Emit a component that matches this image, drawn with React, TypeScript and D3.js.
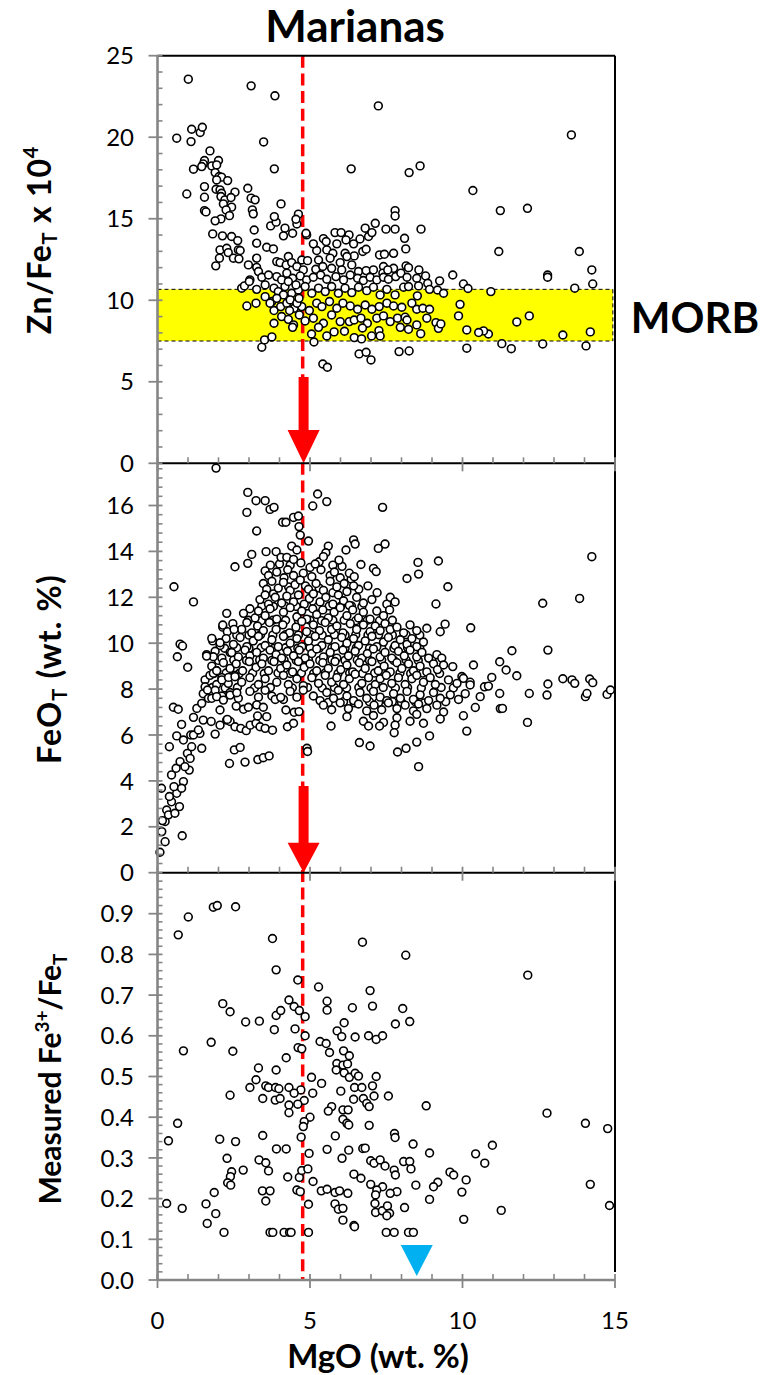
import React from "react";
import * as d3 from "d3";

// ---------- axis ticks ----------
const mgoTicks = [0, 5, 10, 15];
const znTicks = [0, 5, 10, 15, 20, 25];
const feoTicks = [0, 2, 4, 6, 8, 10, 12, 14, 16];
const fe3Ticks = [0, 0.1, 0.2, 0.3, 0.4, 0.5, 0.6, 0.7, 0.8, 0.9];

// ---------- annotations ----------
const morbBand = [7.5, 10.67];
const mgoLine = 4.76;
const arrowMgO = 4.79;
const arrowZn = [5.3, 2.05, 0]; // shaft top, head base, tip
const arrowFeO = [3.78, 1.31, 0];
const blueMarker = [8.5, 0.086, 0.01]; // MgO, top, tip

// ---------- Zn/FeT x 10^4 ----------
const znSparse: [number, number][] = [
  [1.01, 23.56], [3.07, 23.15], [3.85, 22.54], [7.24, 21.92], [13.57, 20.14], [0.63, 19.94], [1.1, 19.73],
  [1.12, 20.49], [1.4, 20.29], [1.47, 20.61], [3.48, 19.71], [1.72, 19.16], [3.83, 18.06], [6.35, 18.06],
  [8.25, 17.83], [8.61, 18.24], [10.34, 16.73], [0.96, 16.52], [11.24, 15.5], [12.13, 15.64], [11.19, 12.99],
  [13.83, 12.99], [14.24, 11.86], [12.79, 11.55], [12.79, 11.41], [13.68, 10.74], [14.27, 11.0], [14.19, 8.06],
  [14.05, 7.2], [13.29, 7.87], [12.63, 7.32], [12.19, 9.04], [11.78, 8.67], [11.6, 7.03], [11.29, 7.34],
  [10.85, 7.93], [10.69, 8.12], [10.53, 8.02], [10.93, 10.53], [10.14, 8.18], [10.14, 7.06], [9.87, 9.04],
  [9.92, 9.75], [10.03, 11.0], [10.18, 10.72], [9.68, 11.55], [9.25, 11.19], [9.38, 10.43], [9.13, 8.63],
  [9.21, 8.28], [9.29, 8.55], [7.92, 6.85], [8.25, 6.89], [6.61, 6.71], [6.84, 6.81], [7.0, 6.34], [5.42, 6.09],
  [5.57, 5.89], [3.42, 7.12], [3.51, 7.57], [3.75, 7.75], [8.64, 14.36], [7.79, 15.5], [7.79, 15.17],
  [7.79, 14.36], [7.49, 14.36], [7.14, 14.72], [8.1, 13.8], [8.14, 13.15], [4.05, 15.91], [4.89, 14.01],
  [4.87, 14.11], [4.62, 15.28], [4.54, 14.97],
];
const znLeft: [number, number][] = [
  [1.54, 18.57], [1.5, 18.36], [1.45, 18.2], [1.18, 18.04], [1.78, 18.24], [2.0, 18.57], [1.94, 18.3],
  [1.89, 17.83], [2.02, 17.59], [2.1, 17.55], [1.94, 17.38], [2.3, 17.34], [1.54, 16.97], [1.92, 16.81],
  [2.05, 16.77], [2.1, 16.56], [2.54, 16.63], [1.54, 16.32], [2.08, 16.36], [2.21, 16.16], [2.41, 16.3],
  [2.16, 15.91], [2.43, 15.71], [1.54, 15.5], [1.59, 15.42], [2.25, 15.54], [2.36, 15.19], [2.08, 14.99],
  [1.89, 14.87], [1.81, 14.07], [2.13, 13.95], [2.43, 13.91], [2.63, 13.66], [2.05, 13.09], [2.27, 13.19],
  [2.32, 12.92], [2.65, 13.09], [2.71, 13.05], [2.49, 12.58], [2.03, 12.58], [2.67, 12.54], [1.91, 12.11],
  [2.96, 16.87], [3.07, 16.26], [3.2, 16.16], [3.11, 15.54], [3.14, 15.3], [3.17, 14.31], [3.25, 13.5],
  [3.58, 13.25], [3.8, 13.15], [3.71, 14.56], [3.89, 14.79], [3.83, 15.13], [4.18, 14.42], [4.13, 13.95],
  [4.43, 14.11], [4.57, 14.68],
];
const znDense: [number, number][] = [
  [5.22, 13.05], [5.55, 13.09], [5.75, 12.88], [5.88, 13.46], [6.15, 12.88], [6.45, 12.72], [6.73, 12.99],
  [7.28, 12.78], [7.44, 12.82], [7.74, 12.88], [3.25, 12.58], [4.29, 12.68], [4.73, 12.47], [4.92, 12.43],
  [5.28, 12.47], [5.66, 12.58], [5.99, 12.31], [6.21, 12.68], [5.11, 13.46], [5.44, 13.78], [5.53, 13.6],
  [5.82, 14.15], [6.02, 14.15], [6.28, 14.01], [6.18, 13.7], [6.43, 13.46], [6.64, 13.76], [6.81, 14.42],
  [6.92, 13.91], [7.03, 14.15], [6.84, 13.13],
  [2.98, 12.17], [3.25, 12.02], [3.31, 11.76], [3.91, 12.37], [4.02, 12.31], [4.22, 12.17], [4.4, 12.31],
  [4.57, 12.07], [4.78, 11.86], [5.19, 11.9], [5.42, 12.07], [5.71, 11.96], [6.04, 11.86], [6.37, 12.17],
  [6.59, 11.76], [6.84, 11.82], [7.08, 11.86], [7.41, 12.07], [7.74, 11.96], [8.15, 12.11], [8.23, 12.0],
  [8.57, 11.86], [7.39, 11.66], [7.55, 11.86],
  [3.03, 11.25], [3.42, 11.41], [3.64, 11.55], [3.91, 11.45], [4.24, 11.66], [4.43, 11.35], [4.68, 11.49],
  [4.89, 11.25], [5.11, 11.41], [5.35, 11.55], [5.55, 11.29], [5.85, 11.45], [6.1, 11.25], [6.32, 11.55],
  [6.56, 11.35], [6.75, 11.21], [6.97, 11.41], [7.19, 11.25], [7.41, 11.41], [7.57, 11.29], [7.81, 11.45],
  [7.98, 11.66], [8.18, 11.41], [8.5, 11.35], [8.79, 11.49], [8.86, 11.04], [8.56, 10.88],
  [2.76, 10.74], [2.85, 10.88], [3.01, 11.15], [3.25, 10.67], [3.53, 10.94], [3.82, 10.74], [3.96, 10.53],
  [4.18, 10.84], [4.4, 10.43], [4.62, 10.63], [4.84, 10.84], [5.06, 10.43], [5.28, 10.74], [5.5, 10.53],
  [5.71, 10.84], [5.93, 10.43], [6.15, 10.74], [6.37, 10.47], [6.59, 10.8], [6.86, 10.59], [7.08, 10.8],
  [7.3, 10.33], [7.52, 10.67], [7.79, 10.33], [8.07, 10.8], [8.23, 10.84], [8.52, 10.27], [8.92, 10.67],
  [9.18, 10.63],
  [2.93, 9.65], [3.23, 9.82], [3.53, 10.22], [3.75, 9.92], [3.82, 9.37], [4.04, 9.61], [4.24, 9.82],
  [4.48, 9.51], [4.73, 9.61], [4.98, 9.37], [5.22, 9.82], [5.39, 9.61], [5.64, 9.92], [5.88, 9.51],
  [6.08, 9.82], [6.32, 9.65], [6.56, 9.45], [6.81, 9.71], [7.03, 9.45], [7.27, 9.61], [7.52, 9.82],
  [7.74, 9.65], [8.01, 9.57], [8.34, 9.82], [8.5, 9.45], [8.7, 9.51], [8.92, 9.45],
  [3.82, 8.59], [4.07, 9.0], [4.29, 8.83], [4.46, 8.49], [4.65, 9.1], [4.84, 8.73], [5.11, 8.9], [5.44, 8.59],
  [5.71, 9.1], [5.99, 8.69], [6.29, 8.69], [6.45, 8.79], [6.67, 8.9], [6.88, 8.59], [7.19, 8.9], [7.41, 9.04],
  [7.63, 8.69], [7.87, 8.9], [8.12, 8.96], [8.18, 8.79], [8.5, 8.49], [8.83, 8.9],
  [4.43, 8.34], [5.05, 7.93], [5.13, 7.44], [5.28, 8.34], [5.55, 7.81], [5.79, 8.06], [6.13, 8.1],
  [6.45, 7.71], [6.69, 7.63], [6.72, 8.3], [7.02, 7.81], [7.26, 8.14], [7.3, 7.81], [7.96, 8.34],
  [8.23, 8.22], [8.63, 7.95],
  [4.07, 11.25], [4.29, 11.15], [4.54, 10.94], [4.13, 10.33], [4.35, 10.02], [4.57, 9.82], [4.33, 9.37],
  [4.64, 10.12], [3.91, 10.12], [3.69, 9.82],
];

// ---------- FeOT (wt. %) ----------
const feoSparse: [number, number][] = [
  [1.92, 17.63], [2.96, 16.57], [2.93, 15.7], [3.23, 16.21], [3.53, 16.21], [3.69, 15.83], [3.82, 15.92],
  [3.25, 14.89], [5.25, 16.5], [5.55, 16.17], [5.09, 15.98], [7.38, 15.92], [4.1, 15.27], [4.21, 15.27],
  [4.46, 15.48], [4.62, 15.54], [4.64, 15.08], [4.68, 14.71], [4.95, 14.45], [4.4, 14.23], [4.57, 14.06],
  [3.09, 13.87], [2.96, 13.48], [2.54, 13.33], [3.56, 13.99], [3.89, 13.99], [4.05, 13.74], [4.24, 13.74],
  [4.46, 13.65], [0.54, 12.46], [1.18, 11.8], [0.74, 9.96], [0.82, 9.88], [0.65, 9.41], [0.99, 8.95],
  [0.52, 7.21], [0.68, 7.12], [0.79, 6.46], [0.13, 3.68], [0.08, 0.89], [0.25, 1.35], [0.16, 2.27],
  [0.81, 1.61], [5.6, 14.23], [5.52, 13.94], [5.44, 13.77], [6.18, 14.06], [6.43, 14.5], [6.48, 14.32],
  [7.24, 14.13], [7.46, 14.32], [5.17, 13.45], [5.95, 13.62], [6.67, 13.43], [7.08, 13.26], [7.17, 13.12],
  [8.54, 13.52], [8.56, 13.01], [9.21, 13.58], [8.18, 12.82], [9.52, 12.46], [14.24, 13.77], [13.84, 11.95],
  [12.63, 11.74], [9.13, 11.71], [10.27, 10.67], [9.43, 10.83], [9.27, 10.5], [11.62, 9.67], [12.8, 9.7],
  [11.22, 9.19], [11.43, 8.83], [11.78, 8.58], [13.29, 8.45], [13.59, 8.4], [13.68, 8.25], [14.17, 8.44],
  [14.27, 8.28], [12.8, 8.22], [12.77, 7.74], [12.19, 7.81], [14.03, 7.67], [14.08, 7.81], [14.74, 7.77],
  [14.85, 7.96], [11.22, 7.81], [11.24, 7.15], [11.31, 7.16], [12.13, 6.55], [10.14, 6.17], [10.03, 6.84],
  [10.96, 8.51], [10.72, 8.1], [10.58, 7.67], [10.42, 7.2], [10.36, 9.05], [10.03, 8.47], [9.68, 8.98],
  [10.25, 8.18], [10.85, 8.13],
];
const feoLeft: [number, number][] = [
  [0.3, 2.73], [0.46, 3.09], [0.63, 3.46], [0.54, 3.75], [0.46, 4.26], [0.61, 4.55], [0.74, 4.84],
  [0.85, 3.97], [0.39, 5.49], [0.63, 5.96], [0.85, 5.78], [0.98, 5.2], [1.04, 4.47], [1.09, 6.0],
  [1.12, 5.49], [1.45, 5.42], [1.18, 6.77], [1.29, 7.16], [1.5, 6.65], [1.39, 6.07], [1.56, 8.1],
  [1.64, 7.96], [1.76, 6.59], [1.89, 6.04], [2.05, 6.43], [2.27, 6.65], [2.38, 6.59], [0.14, 1.79],
  [0.25, 2.23], [0.36, 2.52], [0.39, 3.32], [0.57, 2.59], [0.72, 2.88], [0.79, 3.68], [0.9, 4.62],
  [1.07, 4.98], [1.18, 6.0], [1.34, 6.22], [1.45, 7.38], [1.78, 7.6], [1.83, 8.69], [1.83, 9.41],
  [1.61, 9.44], [1.78, 10.21], [2.05, 10.02], [2.14, 10.79], [2.27, 11.3], [2.51, 10.6], [2.43, 9.59],
  [1.94, 8.8], [2.11, 8.4], [2.33, 8.51], [2.54, 8.54], [1.94, 7.67], [2.16, 7.52], [2.38, 7.74],
  [2.6, 7.84], [2.05, 7.09], [2.29, 6.68],
  [2.36, 4.76], [2.52, 5.35], [2.71, 5.46], [2.87, 4.82], [3.29, 4.93], [3.47, 5.01], [3.66, 5.09],
  [2.54, 6.36], [2.73, 6.29], [2.91, 6.19], [3.04, 6.43], [3.23, 6.51], [3.36, 6.36], [3.53, 6.29],
  [3.77, 6.21], [4.26, 6.36], [4.46, 6.51], [2.58, 7.26], [2.82, 7.12], [2.98, 7.21], [3.25, 7.31],
  [3.47, 7.21], [3.28, 6.83], [3.58, 6.8], [3.86, 7.55], [4.04, 7.64], [4.21, 7.09], [4.48, 6.99],
  [4.64, 7.02], [4.9, 5.42], [4.92, 5.28], [5.69, 6.39], [6.62, 5.67], [6.97, 5.52], [7.87, 5.26],
  [8.15, 5.42], [8.56, 4.62], [8.5, 5.69], [6.92, 6.39], [7.28, 6.39], [7.79, 6.43], [7.76, 6.1],
  [8.92, 5.96], [8.72, 6.51],
];
const feoDense: [number, number][] = [
  [3.53, 13.15], [3.64, 12.95], [3.91, 13.1], [4.15, 12.85], [4.27, 13.2], [4.46, 12.95], [4.78, 13.05],
  [5.06, 12.9], [5.36, 13.2], [5.66, 12.95], [5.8, 13.1], [5.99, 12.85], [6.29, 13.05], [6.45, 12.9],
  [3.47, 12.6], [3.58, 12.35], [3.75, 12.7], [3.96, 12.4], [4.13, 12.65], [4.35, 12.3], [4.51, 12.55],
  [4.68, 12.75], [4.95, 12.35], [5.2, 12.6], [5.44, 12.3], [5.66, 12.7], [5.88, 12.45], [6.12, 12.6],
  [6.21, 12.25], [6.43, 12.5],
  [3.36, 11.9], [3.53, 12.1], [3.64, 11.7], [3.86, 12.0], [4.07, 11.75], [4.24, 12.05], [4.46, 11.8],
  [4.62, 12.1], [4.81, 11.7], [4.98, 11.95], [5.11, 12.15], [5.33, 11.8], [5.52, 12.0], [5.75, 11.7],
  [5.93, 12.1], [6.1, 11.85], [6.29, 11.65], [6.53, 12.0], [6.75, 11.75], [7.03, 11.9], [7.52, 11.7],
  [7.63, 12.0], [7.79, 11.8],
  [2.82, 11.3], [3.03, 11.5], [3.2, 11.1], [3.31, 11.4], [3.53, 11.2], [3.69, 11.5], [3.91, 11.05],
  [4.13, 11.35], [4.35, 11.55], [4.57, 11.15], [4.73, 11.4], [4.89, 11.05], [5.09, 11.5], [5.22, 11.25],
  [5.42, 11.45], [5.6, 11.1], [5.79, 11.35], [5.99, 11.55], [6.21, 11.2], [6.4, 11.45], [6.59, 11.1],
  [6.75, 11.35], [6.97, 11.05], [7.19, 11.4], [7.41, 11.2], [7.61, 11.45],
  [2.14, 10.7], [2.29, 10.5], [2.47, 10.85], [2.76, 10.6], [2.93, 10.9], [3.09, 10.45], [3.28, 10.75],
  [3.47, 10.55], [3.67, 10.9], [3.89, 10.6], [4.11, 10.8], [4.33, 10.45], [4.54, 10.7], [4.73, 10.95],
  [4.89, 10.5], [5.11, 10.8], [5.31, 10.55], [5.5, 10.9], [5.71, 10.6], [5.88, 10.75], [6.08, 10.45],
  [6.32, 10.85], [6.53, 10.6], [6.75, 10.8], [6.97, 10.5], [7.14, 10.75], [7.3, 10.55], [7.46, 10.85],
  [7.63, 10.6], [7.85, 10.7], [8.07, 10.45], [8.28, 10.8], [8.5, 10.55], [8.83, 10.65],
  [1.81, 10.1], [2.05, 9.9], [2.25, 10.2], [2.49, 9.95], [2.71, 10.25], [2.93, 9.85], [3.14, 10.1],
  [3.31, 10.3], [3.53, 9.9], [3.75, 10.15], [3.96, 9.85], [4.13, 10.3], [4.35, 10.0], [4.57, 10.2],
  [4.73, 9.85], [4.95, 10.1], [5.17, 10.3], [5.39, 9.9], [5.6, 10.15], [5.82, 9.85], [6.04, 10.25],
  [6.21, 10.0], [6.43, 10.2], [6.59, 9.9], [6.81, 10.1], [7.03, 10.3], [7.19, 9.85], [7.41, 10.05],
  [7.57, 10.25], [7.79, 9.9], [7.96, 10.15], [8.18, 9.95], [8.34, 10.2], [8.5, 9.85], [8.72, 10.05],
  [1.61, 9.5], [1.89, 9.65], [2.11, 9.35], [2.38, 9.6], [2.65, 9.4], [2.87, 9.7], [3.03, 9.45], [3.25, 9.6],
  [3.47, 9.35], [3.69, 9.7], [3.89, 9.5], [4.07, 9.35], [4.26, 9.65], [4.46, 9.45], [4.65, 9.7],
  [4.84, 9.35], [5.06, 9.55], [5.22, 9.75], [5.44, 9.4], [5.66, 9.6], [5.88, 9.35], [6.08, 9.7],
  [6.26, 9.45], [6.48, 9.65], [6.7, 9.35], [6.88, 9.55], [7.08, 9.75], [7.3, 9.4], [7.46, 9.6],
  [7.68, 9.35], [7.9, 9.65], [8.09, 9.45], [8.28, 9.7], [8.5, 9.4], [8.67, 9.6], [8.89, 9.35],
  [9.16, 9.5], [9.32, 9.35],
  [1.78, 9.0], [1.94, 8.8], [2.16, 9.15], [2.38, 8.9], [2.58, 9.1], [2.79, 8.8], [3.01, 9.2], [3.23, 8.95],
  [3.42, 9.1], [3.64, 8.8], [3.82, 9.2], [4.04, 8.9], [4.24, 9.05], [4.43, 8.75], [4.62, 9.2], [4.81, 8.95],
  [5.0, 9.1], [5.22, 8.8], [5.42, 9.15], [5.6, 8.9], [5.82, 9.2], [6.01, 8.85], [6.21, 9.05], [6.4, 8.75],
  [6.62, 9.15], [6.81, 8.9], [7.03, 9.2], [7.24, 8.8], [7.43, 9.0], [7.63, 8.75], [7.85, 9.15],
  [8.01, 8.9], [8.23, 9.1], [8.39, 8.8], [8.61, 9.0], [8.83, 8.75], [9.05, 9.1], [9.18, 8.85], [9.38, 9.05],
  [1.56, 8.4], [1.72, 8.6], [1.94, 8.2], [2.11, 8.5], [2.32, 8.25], [2.54, 8.6], [2.76, 8.3], [3.03, 8.5],
  [3.31, 8.2], [3.53, 8.45], [3.91, 8.3], [4.13, 8.6], [4.29, 8.2], [4.57, 8.45], [4.78, 8.15], [5.06, 8.5],
  [5.28, 8.25], [5.5, 8.6], [5.71, 8.3], [5.88, 8.5], [6.1, 8.2], [6.29, 8.45], [6.48, 8.65], [6.7, 8.25],
  [6.92, 8.5], [7.14, 8.2], [7.3, 8.45], [7.5, 8.6], [7.68, 8.25], [7.9, 8.5], [8.12, 8.2], [8.34, 8.45],
  [8.5, 8.6], [8.72, 8.3], [8.94, 8.5], [9.11, 8.2], [9.54, 8.4], [9.82, 8.25], [9.98, 8.55], [10.25, 8.3],
  [1.5, 7.8], [1.67, 7.6], [1.89, 7.95], [2.11, 7.7], [2.38, 7.85], [2.65, 7.6], [3.03, 7.9], [3.31, 7.65],
  [3.53, 7.95], [3.75, 7.7], [4.13, 7.55], [4.35, 7.9], [4.57, 7.65], [4.78, 7.95], [5.11, 7.7],
  [5.33, 7.5], [5.55, 7.85], [5.77, 7.6], [5.93, 7.95], [6.21, 7.7], [6.43, 7.5], [6.64, 7.85],
  [6.86, 7.6], [7.08, 7.9], [7.3, 7.65], [7.52, 7.5], [7.74, 7.8], [7.96, 7.6], [8.18, 7.9], [8.39, 7.55],
  [8.61, 7.75], [8.89, 7.5], [9.05, 7.85], [9.27, 7.6], [9.6, 7.75], [9.87, 7.55], [10.09, 7.8],
  [5.44, 7.3], [5.71, 7.1], [5.99, 7.4], [6.26, 7.15], [6.59, 7.35], [6.86, 7.05], [7.1, 7.3], [7.35, 7.1],
  [7.57, 7.4], [7.85, 7.15], [8.12, 7.3], [8.39, 7.05], [8.56, 7.35], [8.83, 7.15], [9.16, 7.3], [9.38, 7.0],
  [6.21, 6.8], [6.75, 6.6], [7.08, 6.85], [7.41, 6.55], [7.85, 6.75], [8.28, 6.6], [8.5, 6.9], [9.27, 6.7],
];
const feoCore: [number, number][] = [
  [3.7, 13.4], [4.0, 13.45], [4.35, 13.4], [4.7, 13.5], [5.0, 13.3], [5.3, 13.55], [5.75, 13.4], [6.05, 13.35],
  [3.8, 12.15], [4.3, 12.45], [4.85, 12.5], [5.3, 12.4], [5.75, 12.2], [6.35, 12.8], [6.6, 12.35], [6.9, 12.5],
  [7.2, 12.2],
  [3.42, 11.62], [3.8, 11.6], [4.18, 11.62], [4.55, 11.6], [4.9, 11.62], [5.26, 11.6], [5.63, 11.62],
  [6.0, 11.6], [6.36, 11.62], [6.7, 11.6],
  [2.98, 11.0], [3.4, 10.98], [3.78, 11.0], [4.2, 11.0], [4.62, 10.98], [5.0, 11.0], [5.38, 10.98],
  [5.75, 11.0], [6.12, 11.0], [6.5, 10.98], [6.88, 11.0], [7.28, 10.98], [7.7, 11.0],
  [2.6, 10.35], [3.0, 10.35], [3.38, 10.37], [3.78, 10.35], [4.2, 10.37], [4.62, 10.35], [5.02, 10.37],
  [5.4, 10.35], [5.8, 10.37], [6.15, 10.35], [6.5, 10.37], [6.9, 10.35], [7.25, 10.37], [7.7, 10.35],
  [8.15, 10.37], [8.6, 10.35],
  [2.2, 9.78], [2.6, 9.8], [3.0, 9.78], [3.4, 9.8], [3.82, 9.78], [4.2, 9.8], [4.6, 9.78], [5.0, 9.8],
  [5.3, 9.78], [5.72, 9.8], [6.15, 9.78], [6.52, 9.8], [6.95, 9.78], [7.35, 9.8], [7.75, 9.78], [8.2, 9.8],
  [8.6, 9.78],
  [2.0, 9.25], [2.5, 9.27], [2.92, 9.25], [3.35, 9.27], [3.75, 9.25], [4.15, 9.27], [4.55, 9.25],
  [4.95, 9.27], [5.32, 9.25], [5.72, 9.27], [6.15, 9.25], [6.55, 9.27], [6.95, 9.25], [7.35, 9.27],
  [7.75, 9.25], [8.15, 9.27], [8.55, 9.25], [9.0, 9.27],
  [1.85, 8.68], [2.25, 8.7], [2.68, 8.68], [3.12, 8.7], [3.5, 8.68], [3.95, 8.7], [4.35, 8.68], [4.72, 8.7],
  [5.12, 8.68], [5.5, 8.7], [5.92, 8.68], [6.3, 8.7], [6.72, 8.68], [7.12, 8.7], [7.55, 8.68], [7.95, 8.7],
  [8.3, 8.68], [8.7, 8.7], [9.25, 8.68],
  [1.8, 8.07], [2.22, 8.05], [2.62, 8.07], [3.18, 8.05], [3.7, 8.07], [4.42, 8.05], [4.92, 8.07], [5.4, 8.05],
  [5.8, 8.07], [6.2, 8.05], [6.6, 8.07], [7.0, 8.05], [7.4, 8.07], [7.8, 8.05], [8.2, 8.07], [8.65, 8.05],
  [9.3, 8.07], [9.7, 8.05],
  [5.6, 7.42], [6.1, 7.45], [6.45, 7.4], [6.95, 7.45], [7.25, 7.42], [7.7, 7.45], [8.0, 7.42], [8.45, 7.45],
  [8.75, 7.4], [9.45, 7.45],
];

// ---------- Measured Fe3+/FeT ----------
const fe3Data: [number, number][] = [
  [1.83, 0.916], [1.96, 0.92], [2.56, 0.917], [1.01, 0.892], [0.68, 0.848], [3.77, 0.839], [6.72, 0.83],
  [8.14, 0.798], [3.89, 0.762], [12.14, 0.749], [4.6, 0.737], [5.28, 0.72], [6.97, 0.711], [2.14, 0.679],
  [2.38, 0.659], [4.31, 0.688], [4.48, 0.672], [4.65, 0.662], [4.84, 0.647], [3.89, 0.65], [4.04, 0.662],
  [5.56, 0.685], [5.56, 0.663], [6.39, 0.669], [7.05, 0.673], [8.04, 0.667], [2.89, 0.634], [3.34, 0.636],
  [3.83, 0.615], [4.51, 0.617], [6.12, 0.632], [7.8, 0.629], [8.27, 0.635], [4.84, 0.6], [5.89, 0.612],
  [6.04, 0.598], [6.48, 0.597], [6.92, 0.6], [7.17, 0.591], [7.38, 0.6], [1.76, 0.584], [0.85, 0.563],
  [2.47, 0.562], [4.61, 0.571], [4.73, 0.568], [5.33, 0.586], [5.53, 0.581], [5.64, 0.559], [4.22, 0.546],
  [6.1, 0.563], [6.29, 0.551], [5.88, 0.532], [6.08, 0.528], [6.23, 0.531], [5.86, 0.516], [6.12, 0.509],
  [6.29, 0.498], [6.48, 0.508], [6.59, 0.501], [7.17, 0.5], [3.31, 0.521], [3.89, 0.516], [5.05, 0.498],
  [5.38, 0.483], [3.23, 0.492], [3.03, 0.473], [3.55, 0.477], [3.64, 0.473], [3.87, 0.473], [3.98, 0.47],
  [4.31, 0.473], [4.7, 0.467], [4.48, 0.459], [4.81, 0.441], [5.09, 0.459], [6.01, 0.464], [6.46, 0.473],
  [6.7, 0.473], [7.05, 0.477], [7.1, 0.452], [7.57, 0.452], [6.43, 0.444], [6.75, 0.446], [6.86, 0.434],
  [6.94, 0.426], [3.45, 0.446], [3.86, 0.442], [4.02, 0.446], [2.38, 0.454], [4.6, 0.432], [4.31, 0.43],
  [4.31, 0.411], [5.71, 0.426], [5.6, 0.415], [6.08, 0.418], [6.25, 0.418], [8.81, 0.428], [12.77, 0.41],
  [5.0, 0.4], [4.81, 0.389], [4.78, 0.377], [6.08, 0.395], [6.21, 0.385], [6.27, 0.381], [6.94, 0.38],
  [0.66, 0.385], [14.03, 0.385], [14.76, 0.372], [0.36, 0.342], [2.04, 0.346], [2.56, 0.34], [3.45, 0.355],
  [4.71, 0.351], [5.83, 0.354], [7.77, 0.36], [7.79, 0.35], [3.9, 0.322], [4.22, 0.322], [4.97, 0.311],
  [5.56, 0.321], [6.05, 0.299], [6.27, 0.319], [6.73, 0.323], [6.81, 0.324], [8.38, 0.334], [8.92, 0.312],
  [10.43, 0.31], [10.98, 0.331], [10.73, 0.287], [2.28, 0.299], [3.33, 0.295], [3.55, 0.288], [3.64, 0.268],
  [2.81, 0.27], [2.43, 0.266], [2.39, 0.254], [2.3, 0.239], [2.4, 0.233], [4.27, 0.253], [4.65, 0.252],
  [4.73, 0.269], [4.93, 0.273], [5.1, 0.242], [4.57, 0.221], [4.68, 0.217], [6.44, 0.26], [6.67, 0.25],
  [6.99, 0.293], [7.1, 0.287], [7.3, 0.295], [7.46, 0.28], [7.76, 0.27], [7.8, 0.258], [8.07, 0.291],
  [8.27, 0.291], [8.31, 0.273], [9.59, 0.265], [9.71, 0.258], [10.12, 0.246], [9.19, 0.24], [9.05, 0.229],
  [8.47, 0.233], [6.99, 0.235], [7.38, 0.229], [7.19, 0.221], [7.85, 0.217], [7.63, 0.213], [14.19, 0.235],
  [1.86, 0.215], [3.44, 0.219], [3.69, 0.219], [3.55, 0.194], [5.37, 0.219], [5.56, 0.223], [5.82, 0.215],
  [5.97, 0.219], [6.24, 0.213], [7.15, 0.209], [9.98, 0.216], [0.3, 0.188], [0.81, 0.176], [1.59, 0.187],
  [1.91, 0.163], [1.63, 0.139], [2.18, 0.117], [5.82, 0.187], [5.93, 0.174], [6.08, 0.176], [6.08, 0.147],
  [6.44, 0.134], [6.46, 0.131], [7.13, 0.188], [7.15, 0.166], [7.37, 0.17], [7.54, 0.182], [7.61, 0.164],
  [7.52, 0.158], [8.1, 0.178], [8.92, 0.198], [10.04, 0.149], [11.27, 0.171], [14.82, 0.183], [4.95, 0.186],
  [3.69, 0.117], [3.78, 0.117], [4.15, 0.117], [4.33, 0.117], [4.38, 0.117], [4.95, 0.117], [7.5, 0.117],
  [7.76, 0.117], [8.23, 0.117], [8.39, 0.117],
];

const FONT = "Lato, 'Open Sans', 'DejaVu Sans', sans-serif";
const AXIS = "#868686";

const x = d3.scaleLinear().domain([0, 15]).range([157.5, 615]);
const yZn = d3.scaleLinear().domain([0, 25]).range([463.3, 55.7]);
const yFeO = d3.scaleLinear().domain([0, 18]).range([872.7, 459.6]);
const yFe3 = d3.scaleLinear().domain([0, 1]).range([1280, 873]);

function Points({ data, y }: { data: [number, number][]; y: any }) {
  return (
    <g>
      {data.map((d, i) => (
        <circle key={i} cx={x(d[0])} cy={y(d[1])} r={3.9} fill="#fff" stroke="#000" strokeWidth={1.6} />
      ))}
    </g>
  );
}

function LeftTicks({ y, major, minor, fmt }: { y: any; major: number[]; minor: number[]; fmt: (v: number) => string }) {
  const x0 = x(0);
  return (
    <g>
      {minor.map((v, i) => (
        <line key={"m" + i} x1={x0} x2={x0 + 5} y1={y(v)} y2={y(v)} stroke={AXIS} strokeWidth={1.6} />
      ))}
      {major.map((v, i) => (
        <line key={"M" + i} x1={x0 - 9} x2={x0 + 5} y1={y(v)} y2={y(v)} stroke={AXIS} strokeWidth={1.8} />
      ))}
      {major.map((v, i) => (
        <text key={"t" + i} x={134} y={y(v)} dy="0.36em" textAnchor="end" fontFamily={FONT} fontSize={24} fill="#000">
          {fmt(v)}
        </text>
      ))}
    </g>
  );
}

function BottomTicks({ y0 }: { y0: number }) {
  const minor = d3.range(0, 15.01, 1).filter((v) => v % 5 !== 0);
  return (
    <g>
      {minor.map((v, i) => (
        <line key={"m" + i} x1={x(v)} x2={x(v)} y1={y0 - 6} y2={y0} stroke={AXIS} strokeWidth={1.6} />
      ))}
      {mgoTicks.map((v, i) => (
        <line key={"M" + i} x1={x(v)} x2={x(v)} y1={y0 - 6} y2={y0 + 8} stroke={AXIS} strokeWidth={1.8} />
      ))}
    </g>
  );
}

function Arrow({ y, spec }: { y: any; spec: number[] }) {
  const cx = x(arrowMgO);
  const top = y(spec[0]);
  const hb = y(spec[1]);
  const tip = y(spec[2]);
  const p = d3.path();
  p.moveTo(cx - 5, top);
  p.lineTo(cx + 5, top);
  p.lineTo(cx + 5, hb);
  p.lineTo(cx + 16, hb);
  p.lineTo(cx, tip);
  p.lineTo(cx - 16, hb);
  p.lineTo(cx - 5, hb);
  p.closePath();
  return <path d={p.toString()} fill="#ff0000" />;
}

export default function App() {
  const x0 = x(0);
  const x1 = x(15);
  const bandRight = x(14.93);
  const tri = d3.path();
  tri.moveTo(x(blueMarker[0]) - 16, yFe3(blueMarker[1]));
  tri.lineTo(x(blueMarker[0]) + 16, yFe3(blueMarker[1]));
  tri.lineTo(x(blueMarker[0]), yFe3(blueMarker[2]));
  tri.closePath();

  const znMinor = d3.range(0, 25.01, 1).filter((v) => v % 5 !== 0);
  const feoMinor = d3.range(0, 17.7, 0.4).filter((v) => Math.abs(v / 2 - Math.round(v / 2)) > 0.01);
  const fe3Minor = d3.range(0, 1.001, 0.02).filter((v) => Math.abs(v * 10 - Math.round(v * 10)) > 0.01);

  return (
    <svg width={773} height={1375} style={{ position: "absolute", left: 0, top: 0, background: "#fff" }}>
      <rect x={0} y={0} width={773} height={1375} fill="#fff" />
      {/* MORB band */}
      <rect x={x0} y={yZn(morbBand[1])} width={bandRight - x0} height={yZn(morbBand[0]) - yZn(morbBand[1])} fill="#ffff00" />
      <g stroke="#000" strokeWidth={1} strokeDasharray="4,3" fill="none">
        <line x1={x0} x2={bandRight} y1={yZn(morbBand[1])} y2={yZn(morbBand[1])} />
        <line x1={x0} x2={bandRight} y1={yZn(morbBand[0])} y2={yZn(morbBand[0])} />
        <line x1={bandRight} x2={bandRight} y1={yZn(morbBand[1])} y2={yZn(morbBand[0])} />
      </g>

      {/* red dashed line */}
      <line x1={x(mgoLine)} x2={x(mgoLine)} y1={yZn(25)} y2={yFe3(0)} stroke="#ff0000" strokeWidth={3.5} strokeDasharray="12,5.7" />

      {/* points */}
      <Points data={fe3Data} y={yFe3} />
      <Points data={feoCore} y={yFeO} />
      <Points data={feoDense} y={yFeO} />
      <Points data={feoLeft} y={yFeO} />
      <Points data={feoSparse} y={yFeO} />
      <Points data={znDense} y={yZn} />
      <Points data={znLeft} y={yZn} />
      <Points data={znSparse} y={yZn} />

      {/* arrows & marker */}
      <Arrow y={yZn} spec={arrowZn} />
      <Arrow y={yFeO} spec={arrowFeO} />
      <path d={tri.toString()} fill="#00b0f0" />

      {/* frame */}
      <g stroke="#000" strokeWidth={2}>
        <line x1={x0} x2={x1} y1={yZn(25)} y2={yZn(25)} />
        <line x1={x0} x2={x1} y1={yZn(0)} y2={yZn(0)} />
        <line x1={x0} x2={x1} y1={yFeO(0)} y2={yFeO(0)} />
        <line x1={x1} x2={x1} y1={yZn(25)} y2={yFe3(0) - 8} />
      </g>

      {/* axes */}
      <line x1={x0} x2={x0} y1={yZn(25)} y2={yFe3(0)} stroke={AXIS} strokeWidth={2.6} />
      <line x1={x0} x2={x1} y1={yFe3(0)} y2={yFe3(0)} stroke={AXIS} strokeWidth={2.6} />
      <BottomTicks y0={yZn(0)} />
      <BottomTicks y0={yFeO(0)} />
      <BottomTicks y0={yFe3(0)} />
      <LeftTicks y={yFe3} major={fe3Ticks} minor={fe3Minor} fmt={(v) => v.toFixed(1)} />
      <LeftTicks y={yFeO} major={feoTicks} minor={feoMinor} fmt={(v) => String(v)} />
      <LeftTicks y={yZn} major={znTicks} minor={znMinor} fmt={(v) => String(v)} />

      {/* x tick labels */}
      {mgoTicks.map((v) => (
        <text key={v} x={x(v)} y={1329} textAnchor="middle" fontFamily={FONT} fontSize={24} fill="#000">
          {v}
        </text>
      ))}
      <text x={378} y={1368} textAnchor="middle" fontFamily={FONT} fontSize={33} fontWeight={700} fill="#000">
        MgO (wt. %)
      </text>

      {/* titles */}
      <text x={355} y={42} textAnchor="middle" fontFamily={FONT} fontSize={44} fontWeight={700} fill="#000">
        Marianas
      </text>
      <text x={695} y={333} textAnchor="middle" fontFamily={FONT} fontSize={42} fontWeight={700} fill="#000">
        MORB
      </text>

      {/* y titles */}
      <text transform="translate(51,240) rotate(-90)" textAnchor="middle" fontFamily={FONT} fontSize={32} fontWeight={700} letterSpacing={0.8} fill="#000">
        <tspan>Zn/Fe</tspan>
        <tspan fontSize={20} dy={6}>T</tspan>
        <tspan dy={-6}> x 10</tspan>
        <tspan fontSize={20} dy={-13}>4</tspan>
      </text>
      <text transform="translate(61,669) rotate(-90)" textAnchor="middle" fontFamily={FONT} fontSize={32} fontWeight={700} letterSpacing={1.2} fill="#000">
        <tspan>FeO</tspan>
        <tspan fontSize={20} dy={6}>T</tspan>
        <tspan dy={-6}> (wt. %)</tspan>
      </text>
      <text transform="translate(61,1079) rotate(-90)" textAnchor="middle" fontFamily={FONT} fontSize={30} fontWeight={700} fill="#000">
        <tspan>Measured Fe</tspan>
        <tspan fontSize={19} dy={-12}>3+</tspan>
        <tspan dy={12}>/Fe</tspan>
        <tspan fontSize={19} dy={6}>T</tspan>
      </text>
    </svg>
  );
}
